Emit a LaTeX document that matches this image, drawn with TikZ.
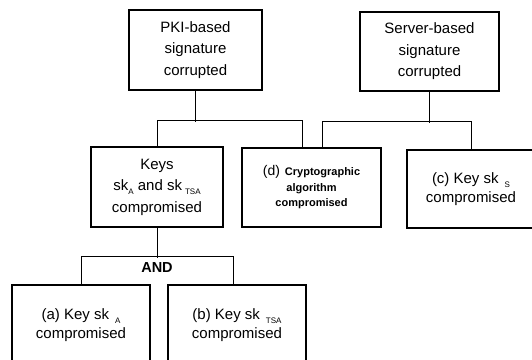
\documentclass[tikz,border=0pt]{standalone}
\usepackage{fontspec}
\setmainfont{Liberation Sans}
\newcommand\lowidx[1]{\raisebox{-0.5ex}{\fontsize{8}{8}\selectfont #1}}
\begin{document}
\begin{tikzpicture}[x=1pt,y=1pt,
    box/.style={draw,line width=1.6pt,inner sep=0pt,align=center,
      font=\fontsize{15}{21.5}\selectfont},
    link/.style={line width=0.9pt}]
      \useasboundingbox (0,0) rectangle (532,359);
      \node[box,minimum width=133,minimum height=80] (pki) at (195.5,309)
        {PKI-based\\signature\\corrupted};
      \node[box,minimum width=139,minimum height=79] (srv) at (429.5,307.5)
        {Server-based\\signature\\corrupted};
      \node[box,minimum width=132,minimum height=80] (keys) at (157,172)
        {Keys\\sk\lowidx{A} and sk\hspace{3pt}\lowidx{TSA}\\compromised};
      \node[box,minimum width=139,minimum height=79,font=\fontsize{11}{15.5}\selectfont\bfseries] (crypt) at (311.5,171.5)
        {{\mdseries\fontsize{14}{15}\selectfont (d)}\hspace{5pt}Cryptographic\\algorithm\\compromised};
      \node[box,minimum width=128,minimum height=78,font=\fontsize{15}{19}\selectfont] (kss) at (471,170)
        {(c) Key sk\hspace{6pt}\lowidx{S}\\compromised};
      \node[box,minimum width=138,minimum height=80,font=\fontsize{15}{19}\selectfont] (ska) at (81,34)
        {(a) Key sk\hspace{6pt}\lowidx{A}\\compromised};
      \node[box,minimum width=138,minimum height=80,font=\fontsize{15}{19}\selectfont] (sktsa) at (237,34)
        {(b) Key sk\hspace{6pt}\lowidx{TSA}\\compromised};
      \node[font=\fontsize{14.5}{15}\selectfont\bfseries] (and) at (157,91) {AND};
      \draw [line width=1.5pt] (pki.south) -- ++(0,-31);
      \draw [link] (keys.north) -- ++(0,26) -| ([xshift=-9.5pt]crypt.north);
      \draw [link] (srv.south) -- ++(0,-31);
      \draw [link] ([xshift=10.5pt]crypt.north) -- ++(0,26) -| (kss.north);
      \draw [link] (keys.south) -- ++(0,-30);
      \draw [link] (ska.north) -- ++(0,28) -| ([xshift=-4pt]sktsa.north);
    \end{tikzpicture}
\end{document}
